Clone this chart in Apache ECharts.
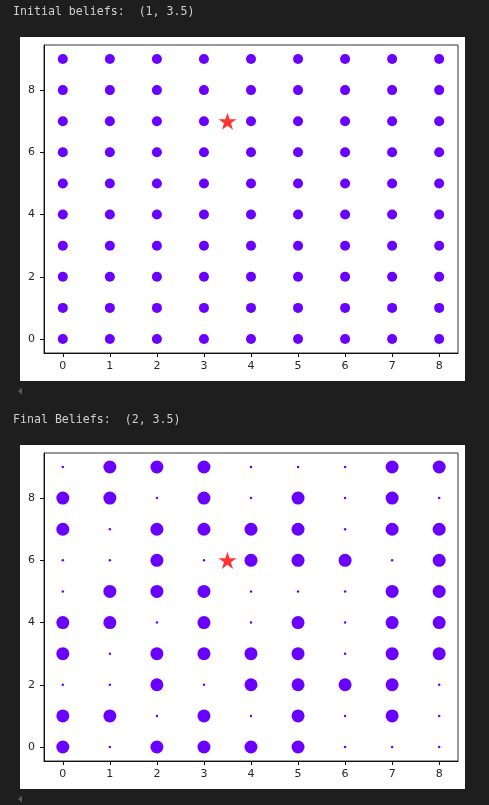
<!DOCTYPE html>
<html>
<head>
<meta charset="utf-8">
<script src="https://cdn.jsdelivr.net/npm/echarts@6/dist/echarts.min.js"></script>
<style>
html,body{margin:0;padding:0;background:#1e1e1e;}
#c{width:489px;height:805px;}
</style>
</head>
<body>
<div id="c"></div>
<script>
// grid coordinates
const xCats = [0, 1, 2, 3, 4, 5, 6, 7, 8];
const yCats = [0, 1, 2, 3, 4, 5, 6, 7, 8, 9];
const xTicks = [0, 1, 2, 3, 4, 5, 6, 7, 8];
const yTicks = [0, 2, 4, 6, 8];

const initialTitle = "Initial beliefs:  (1, 3.5)";
const finalTitle = "Final Beliefs:  (2, 3.5)";

// true position (star)
const initialStar = [3.5, 7];
const finalStar = [3.5, 6];

// final beliefs: rows from y=0 (first) to y=9 (last), 1 = large, 0 = near-zero
const finalRow0 = [1, 0, 1, 1, 1, 1, 0, 0, 0];
const finalRow1 = [1, 1, 0, 1, 0, 1, 0, 1, 0];
const finalRow2 = [0, 0, 1, 0, 1, 1, 1, 1, 0];
const finalRow3 = [1, 0, 1, 1, 1, 1, 0, 1, 1];
const finalRow4 = [1, 1, 0, 1, 0, 1, 0, 1, 1];
const finalRow5 = [0, 1, 1, 1, 0, 0, 0, 1, 1];
const finalRow6 = [0, 0, 1, 0, 1, 1, 1, 0, 1];
const finalRow7 = [1, 0, 1, 1, 1, 1, 0, 1, 1];
const finalRow8 = [1, 1, 0, 1, 0, 1, 0, 1, 0];
const finalRow9 = [0, 1, 1, 1, 0, 0, 0, 1, 1];
const finalRows = [finalRow0, finalRow1, finalRow2, finalRow3, finalRow4,
                   finalRow5, finalRow6, finalRow7, finalRow8, finalRow9];

const dotColor = '#6a00ff';
const starPath = 'path://M100,0L122.45,69.1L195.1,69.1L136.3,111.8L158.8,180.9L100,138.2L41.2,180.9L63.7,111.8L4.9,69.1L77.55,69.1Z';

const initialData = [];
yCats.forEach(y => xCats.forEach(x => initialData.push([x, y])));
const finalData = [];
yCats.forEach((y, yi) => xCats.forEach((x, xi) => finalData.push([x, y, finalRows[yi][xi]])));

function axes(gi) {
  const common = {
    gridIndex: gi, type: 'value',
    axisLine: {show: true, onZero: false, lineStyle: {color: '#111', width: 1}},
    axisTick: {show: true, length: 4, lineStyle: {color: '#111', width: 1}},
    axisLabel: {color: '#262626', fontSize: 11, fontFamily: 'DejaVu Sans'},
    splitLine: {show: false}
  };
  const xa = Object.assign({}, common, {
    min: -0.4, max: 8.4,
    axisTick: Object.assign({}, common.axisTick, {customValues: xTicks}),
    axisLabel: Object.assign({}, common.axisLabel, {customValues: xTicks, margin: 8})
  });
  const ya = Object.assign({}, common, {
    min: -0.45, max: 9.45,
    axisTick: Object.assign({}, common.axisTick, {customValues: yTicks}),
    axisLabel: Object.assign({}, common.axisLabel, {customValues: yTicks, margin: 9})
  });
  return [xa, ya];
}
const a0 = axes(0), a1 = axes(1);

const chart = echarts.init(document.getElementById('c'), null, {renderer: 'canvas'});
chart.setOption({
  backgroundColor: '#1e1e1e',
  animation: false,
  graphic: [
    {type: 'rect', z: -10, shape: {x: 20, y: 37, width: 445, height: 344}, style: {fill: '#ffffff'}},
    {type: 'rect', z: -10, shape: {x: 20, y: 445, width: 445, height: 344}, style: {fill: '#ffffff'}},
    {type: 'text', left: 13, top: 6, style: {text: initialTitle, fill: '#cfcfcf', font: '11.6px "DejaVu Sans Mono"'}},
    {type: 'text', left: 13, top: 414, style: {text: finalTitle, fill: '#cfcfcf', font: '11.6px "DejaVu Sans Mono"'}},
    {type: 'polygon', shape: {points: [[18, 391], [22, 387.5], [22, 394.5]]}, style: {fill: '#5a5a5a'}},
    {type: 'polygon', shape: {points: [[18, 799], [22, 795.5], [22, 802.5]]}, style: {fill: '#5a5a5a'}}
  ],
  grid: [
    {left: 44, top: 45, width: 414, height: 308, show: true, borderColor: '#333', borderWidth: 1, backgroundColor: 'transparent'},
    {left: 44, top: 453, width: 414, height: 308, show: true, borderColor: '#333', borderWidth: 1, backgroundColor: 'transparent'}
  ],
  xAxis: [a0[0], a1[0]],
  yAxis: [a0[1], a1[1]],
  series: [
    {type: 'scatter', xAxisIndex: 0, yAxisIndex: 0, data: initialData, symbolSize: 10,
     itemStyle: {color: dotColor, opacity: 1}},
    {type: 'scatter', xAxisIndex: 0, yAxisIndex: 0, data: [initialStar], symbol: starPath,
     symbolKeepAspect: true, symbolSize: 18, itemStyle: {color: '#ff0000'}, z: 5},
    {type: 'scatter', xAxisIndex: 1, yAxisIndex: 1, data: finalData,
     symbolSize: v => v[2] ? 13 : 2.5,
     itemStyle: {color: dotColor, opacity: 1}},
    {type: 'scatter', xAxisIndex: 1, yAxisIndex: 1, data: [finalStar], symbol: starPath,
     symbolKeepAspect: true, symbolSize: 18, itemStyle: {color: '#ff0000'}, z: 5}
  ]
});
</script>
</body>
</html>
